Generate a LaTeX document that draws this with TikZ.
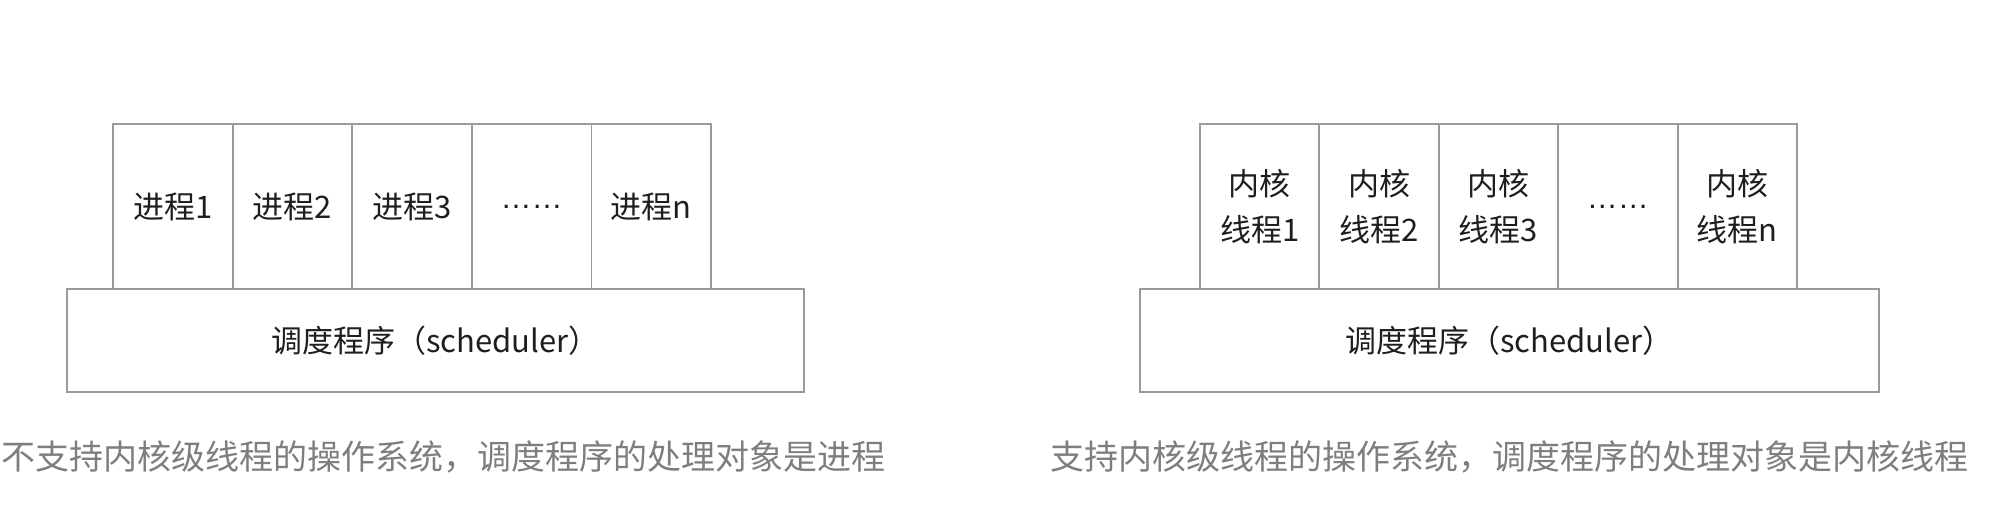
\documentclass[tikz,border=0pt]{standalone}
\usepackage{fontspec}
\setmainfont{Liberation Sans}
\newfontfamily\cjk{Noto Sans CJK SC}
\definecolor{boxline}{HTML}{9A9A9A}
\definecolor{txt}{HTML}{1E1E1E}
\definecolor{cap}{HTML}{7E7E7E}
\begin{document}
\begin{tikzpicture}[x=1pt,y=-1pt,
  cell/.style={draw=boxline,line width=1.8pt,rectangle,inner sep=0pt,minimum width=119.6pt,minimum height=165pt,text=txt,font=\fontsize{31}{46}\selectfont,align=center},
  sched/.style={draw=boxline,line width=1.8pt,rectangle,inner sep=0pt,minimum height=103pt,text=txt,font=\fontsize{31}{40}\selectfont},
  caption/.style={text=cap,font=\cjk\fontsize{34}{40}\selectfont,inner sep=0pt}]
\useasboundingbox (0,0) rectangle (2008,526);
% left
\node[sched,minimum width=737.4pt] (ls) at (435.3,340.5) {\cjk{调度程序（}scheduler\cjk{）}};
\node[cell] (l1) at (172.8,206.5) {\cjk{进程}1};
\node[cell] (l2) at (292.4,206.5) {\cjk{进程}2};
\node[cell] (l3) at (412.0,206.5) {\cjk{进程}3};
\node[cell] (l4) at (531.6,206.5) {\raisebox{-3pt}{……}};
\node[cell] (l5) at (651.2,206.5) {\cjk{进程}n};
\node[caption,anchor=west] (lc) at (1,457) {不支持内核级线程的操作系统，调度程序的处理对象是进程};
% right
\node[sched,minimum width=739pt] (rs) at (1509.5,340.5) {\cjk{调度程序（}scheduler\cjk{）}};
\node[cell] (r1) at (1259.7,206.5) {\cjk{内核}\\\cjk{线程}1};
\node[cell] (r2) at (1379.1,206.5) {\cjk{内核}\\\cjk{线程}2};
\node[cell] (r3) at (1498.5,206.5) {\cjk{内核}\\\cjk{线程}3};
\node[cell] (r4) at (1617.9,206.5) {\raisebox{-3pt}{……}};
\node[cell] (r5) at (1737.3,206.5) {\cjk{内核}\\\cjk{线程}n};
\node[caption,anchor=west] (rc) at (1050,457) {支持内核级线程的操作系统，调度程序的处理对象是内核线程};
\end{tikzpicture}
\end{document}
